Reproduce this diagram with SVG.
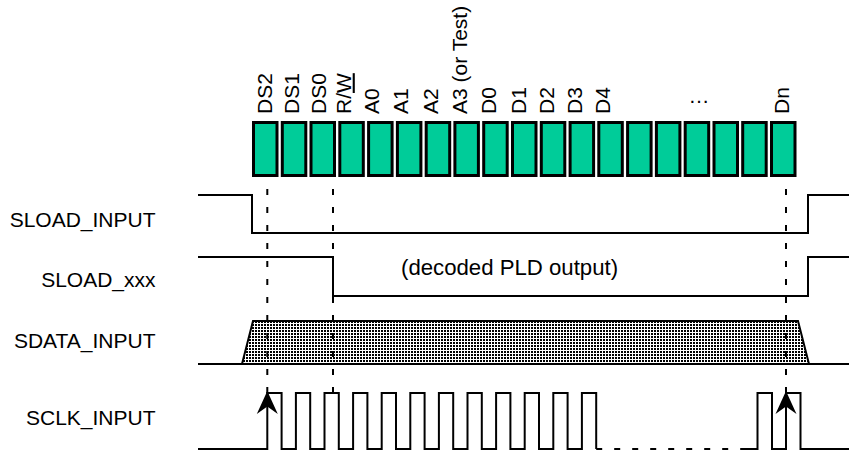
<svg xmlns="http://www.w3.org/2000/svg" width="853" height="455" viewBox="0 0 853 455">
<style>
text{font-family:"Liberation Sans",Arial,sans-serif;font-size:21px;fill:#000}
.lbl{text-anchor:end}
.note{font-size:22.2px}
.bit{fill:#00CC99;stroke:#000;stroke-width:3}
.wave{fill:none;stroke:#000;stroke-width:2}
.guide{fill:none;stroke:#000;stroke-width:2;stroke-dasharray:6 12}
.gap{fill:none;stroke:#000;stroke-width:2;stroke-dasharray:6 12}
</style>
<defs>
<pattern id="dots" patternUnits="userSpaceOnUse" width="3" height="3">
<rect x="0" y="0" width="2" height="2" fill="#000"/>
</pattern>
</defs>
<rect width="853" height="455" fill="#fff"/>

<g id="register">
<rect class="bit" x="253.5" y="122.5" width="23.5" height="53"/>
<rect class="bit" x="282.3" y="122.5" width="23.5" height="53"/>
<rect class="bit" x="311" y="122.5" width="23.5" height="53"/>
<rect class="bit" x="339.8" y="122.5" width="23.5" height="53"/>
<rect class="bit" x="368.6" y="122.5" width="23.5" height="53"/>
<rect class="bit" x="397.4" y="122.5" width="23.5" height="53"/>
<rect class="bit" x="426.2" y="122.5" width="23.5" height="53"/>
<rect class="bit" x="454.9" y="122.5" width="23.5" height="53"/>
<rect class="bit" x="483.7" y="122.5" width="23.5" height="53"/>
<rect class="bit" x="512.5" y="122.5" width="23.5" height="53"/>
<rect class="bit" x="541.3" y="122.5" width="23.5" height="53"/>
<rect class="bit" x="570.1" y="122.5" width="23.5" height="53"/>
<rect class="bit" x="598.8" y="122.5" width="23.5" height="53"/>
<rect class="bit" x="627.6" y="122.5" width="23.5" height="53"/>
<rect class="bit" x="656.4" y="122.5" width="23.5" height="53"/>
<rect class="bit" x="685.2" y="122.5" width="23.5" height="53"/>
<rect class="bit" x="714" y="122.5" width="23.5" height="53"/>
<rect class="bit" x="742.7" y="122.5" width="23.5" height="53"/>
<rect class="bit" x="771.5" y="122.5" width="23.5" height="53"/>
</g>

<g id="bit-labels">
<text transform="translate(272.3,114) rotate(-90)">DS2</text>
<text transform="translate(299,114) rotate(-90)">DS1</text>
<text transform="translate(325.7,114) rotate(-90)">DS0</text>
<text transform="translate(350.7,114) rotate(-90)">R/<tspan style="text-decoration:underline">W</tspan></text>
<text transform="translate(379,114) rotate(-90)">A0</text>
<text transform="translate(408.3,114) rotate(-90)">A1</text>
<text transform="translate(438.3,114) rotate(-90)">A2</text>
<text transform="translate(466.7,114) rotate(-90)">A3 (or Test)</text>
<text transform="translate(495.7,114) rotate(-90)">D0</text>
<text transform="translate(525.7,114) rotate(-90)">D1</text>
<text transform="translate(554,114) rotate(-90)">D2</text>
<text transform="translate(582.3,114) rotate(-90)">D3</text>
<text transform="translate(610,114) rotate(-90)">D4</text>
<text x="688.5" y="103">…</text>
<text transform="translate(789,114) rotate(-90)">Dn</text>
</g>

<g id="signal-names">
<text class="lbl" x="155.5" y="227">SLOAD_INPUT</text>
<text class="lbl" x="155.5" y="287">SLOAD_xxx</text>
<text class="lbl" x="155.5" y="348">SDATA_INPUT</text>
<text class="lbl" x="155.5" y="425">SCLK_INPUT</text>
</g>

<g id="sload-input">
<path class="wave" d="M198,195 H252 V233 H808 V195 H849"/>
</g>

<g id="sload-xxx">
<path class="wave" d="M198,257 H333 V296 H808 V257 H849"/>
<text class="note" x="401" y="275">(decoded PLD output)</text>
</g>

<g id="sdata-input">
<path class="wave" d="M198,364 H242 M809,364 H849"/>
<polygon points="242,364 253,321 798,321 809,364" fill="url(#dots)" stroke="#000" stroke-width="2" stroke-linejoin="miter"/>
</g>

<g id="sclk-input">
<path class="wave" d="M198,449 H267.3 V393 H281.6 V449 H295.9 V393 H310.2 V449 H324.5 V393 H338.8 V449 H353.1 V393 H367.4 V449 H381.7 V393 H396 V449 H410.3 V393 H424.6 V449 H438.9 V393 H453.2 V449 H467.5 V393 H481.8 V449 H496.1 V393 H510.4 V449 H524.7 V393 H539 V449 H553.3 V393 H567.6 V449 H581.9 V393 H596.2 V449"/>
<path class="gap" d="M596.2,449 H742"/>
<path class="wave" d="M741,449 H757.5 V393 H772 V449 H786 V393 H800.5 V449 H849"/>
</g>

<g id="connectors">
<path class="guide" d="M267.3,189 V393"/>
<path class="guide" d="M333,189 V393"/>
<path class="guide" d="M786,189 V393"/>
<polygon points="267.3,391 256.8,414 267.3,406.5 277.8,414" fill="#000"/>
<polygon points="786,391 775.5,414 786,406.5 796.5,414" fill="#000"/>
</g>
</svg>
